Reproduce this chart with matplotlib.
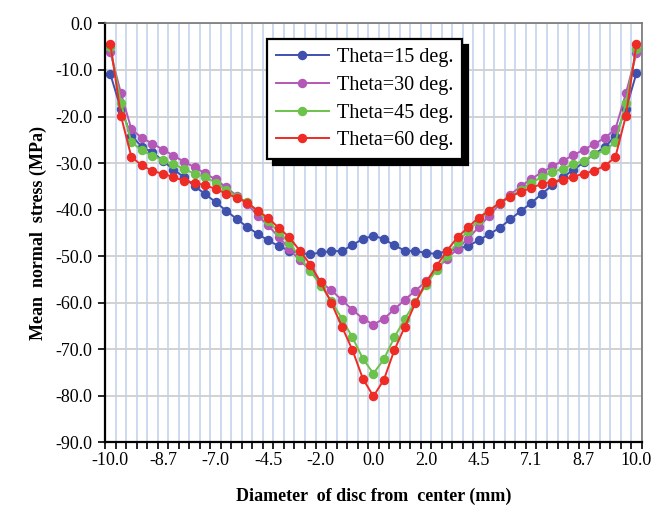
import numpy as np
import matplotlib
matplotlib.use("Agg")
import matplotlib.pyplot as plt

plt.rcParams['font.family'] = ['Liberation Serif', 'DejaVu Serif']

# tick labels shown under every 5th point
x_labels = ["-10.0", "-8.7", "-7.0", "-4.5", "-2.0", "0.0", "2.0", "4.5", "7.1", "8.7", "10.0"]

theta15 = [-10.9, -18.4, -24.1, -26.5, -27.7, -29.5, -31.4, -33.0, -35.0, -36.6,
           -38.4, -40.2, -42.0, -43.7, -45.2, -46.6, -47.8, -48.8, -49.3, -49.6,
           -49.2, -48.9, -48.9, -47.6, -46.3, -45.6, -46.3, -47.7, -48.8, -48.9,
           -49.3, -49.5, -48.9, -48.4, -47.8, -46.6, -45.3, -43.9, -42.1, -40.3,
           -38.6, -36.6, -34.8, -33.0, -31.5, -29.8, -28.0, -26.6, -24.1, -18.4,
           -10.7]
theta30 = [-6.2, -14.9, -22.7, -24.6, -25.8, -27.1, -28.4, -29.7, -30.9, -32.2,
           -33.5, -35.2, -37.0, -38.7, -41.3, -43.4, -45.9, -48.4, -50.9, -53.0,
           -55.6, -57.3, -59.4, -61.5, -63.4, -64.7, -63.4, -61.4, -59.3, -57.4,
           -55.4, -52.8, -50.5, -48.4, -46.2, -43.8, -41.3, -38.8, -36.8, -35.0,
           -33.4, -32.0, -30.7, -29.5, -28.3, -27.1, -25.9, -24.6, -22.7, -15.0,
           -6.4]
theta45 = [-5.1, -17.0, -25.5, -27.3, -28.4, -29.4, -30.3, -31.2, -32.3, -33.0,
           -34.2, -35.7, -37.2, -38.4, -40.4, -42.5, -44.8, -47.1, -50.2, -53.2,
           -56.3, -59.6, -63.4, -67.4, -72.0, -75.2, -72.1, -67.4, -63.4, -59.8,
           -56.1, -53.0, -50.0, -47.0, -44.6, -42.3, -40.3, -38.6, -37.3, -35.8,
           -34.3, -33.0, -31.9, -31.2, -30.3, -29.5, -28.1, -27.3, -25.5, -17.0,
           -5.4]
theta60 = [-4.4, -19.8, -28.7, -30.5, -31.7, -32.3, -33.0, -33.8, -34.2, -34.8,
           -35.5, -36.6, -37.4, -38.5, -40.2, -41.8, -43.9, -45.9, -48.8, -51.8,
           -55.6, -60.0, -65.1, -70.1, -76.3, -80.1, -76.5, -70.1, -65.1, -60.0,
           -55.6, -52.1, -48.8, -45.9, -43.8, -41.7, -40.2, -38.5, -37.2, -36.2,
           -35.3, -34.5, -34.0, -33.6, -32.9, -32.3, -31.6, -30.6, -28.7, -19.8,
           -4.4]

series = [
    ("Theta=15 deg.", theta15, "#3f51ad"),
    ("Theta=30 deg.", theta30, "#b457b6"),
    ("Theta=45 deg.", theta45, "#6cc24a"),
    ("Theta=60 deg.", theta60, "#ee2b25"),
]

n = len(theta15)
x = np.arange(n)

fig = plt.figure(figsize=(6.65, 5.08), dpi=100)
ax = fig.add_axes([0.158, 0.129, 0.807, 0.825])

for label, vals, col in series:
    ax.plot(x, vals, color=col, lw=1.4, marker='o', ms=5.8, mec=col, mfc=col, label=label)

ax.set_xlim(-0.5, n - 0.5)
ax.set_ylim(-90, 0)

# category boundaries: ticks + blue vertical grid
ax.set_xticks(np.arange(n + 1) - 0.5)
ax.set_xticklabels([])
ax.set_xticks(np.arange(0, n, 5), minor=True)
ax.set_xticklabels(x_labels, minor=True)
ax.tick_params(axis='x', which='major', direction='out', length=5, width=1.2, color='black')
ax.tick_params(axis='x', which='minor', length=0, pad=7, labelsize=13)
ax.grid(True, axis='x', which='major', color='#c8d7ee', lw=1.3)

ax.set_yticks(np.arange(-90, 1, 10))
ax.set_yticklabels([f"{v:.1f}" for v in np.arange(-90, 1, 10)])
ax.tick_params(axis='y', direction='out', length=5, width=1.2, labelsize=13, pad=4)
ax.grid(True, axis='y', color='#cfcfcf', lw=1.3)
ax.set_axisbelow(True)

ax.spines['left'].set_color('black')
ax.spines['left'].set_linewidth(1.6)
ax.spines['bottom'].set_color('black')
ax.spines['bottom'].set_linewidth(1.6)
for s in ('top', 'right'):
    ax.spines[s].set_color('#777777')
    ax.spines[s].set_linewidth(1.2)

ax.set_xlabel("Diameter  of disc from  center (mm)", fontsize=13, fontweight='bold', labelpad=13)
ax.set_ylabel("Mean  normal  stress (MPa)", fontsize=13, fontweight='bold', labelpad=6)

leg = ax.legend(loc='upper left', bbox_to_anchor=(0.302, 0.962), fontsize=14.5,
                frameon=True, fancybox=False, edgecolor='black', framealpha=1,
                shadow={'color': 'black', 'alpha': 1, 'ox': 4, 'oy': -4}, handlelength=2.6,
                labelspacing=0.42, borderpad=0.45, handletextpad=0.4, borderaxespad=0)
leg.get_frame().set_linewidth(1.6)

fig.savefig("out.png", dpi=100)
